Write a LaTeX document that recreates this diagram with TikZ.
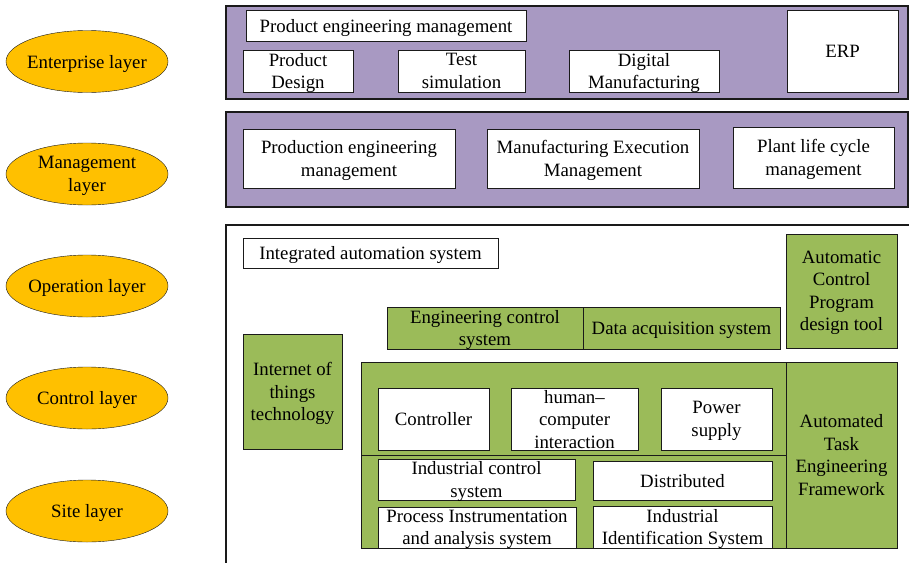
\documentclass[tikz,border=0pt]{standalone}
\usepackage{fontspec}
\setmainfont{Liberation Serif}
\usepackage{xcolor}
\usetikzlibrary{shapes.geometric, positioning}

\definecolor{layerorange}{HTML}{FFC000}
\definecolor{bandpurple}{HTML}{A899C2}
\definecolor{toolgreen}{HTML}{9BBB59}
\definecolor{edge}{HTML}{1A1A1A}

\begin{document}
\begin{tikzpicture}[
        x=1pt, y=-1pt,
        every node/.style={font=\fontsize{18.8}{22.5}\selectfont, inner sep=0pt, text depth=0pt, align=center},
        layer/.style={ellipse, draw=edge, thin, fill=layerorange, inner xsep=-6pt, minimum width=162pt, minimum height=62pt},
        band/.style={rectangle, draw=edge, line width=1.2pt, fill=bandpurple},
        item/.style={rectangle, draw=edge, line width=0.8pt, fill=white},
        tool/.style={rectangle, draw=edge, line width=0.8pt, fill=toolgreen}
    ]
        \useasboundingbox (0,0) rectangle (909,562);

        % layer names on the left
        \node[layer] (enterprise) at (87,61.5) {Enterprise layer};
        \node[layer] (management) at (87,174) {Management\\layer};
        \node[layer] (operation) at (87,286) {Operation layer};
        \node[layer] (control) at (87,398) {Control layer};
        \node[layer] (site) at (87,511) {Site layer};

        % enterprise band
        \node[band, minimum width=682pt, minimum height=93pt] (entband) at (567,52.5) {};
        \node[item, minimum width=280pt, minimum height=31pt] (pem) at (386,25.5) {Product engineering management};
        \node[item, minimum width=110pt, minimum height=42pt] (design) at (298,71) {Product\\Design};
        \node[item, minimum width=127pt, minimum height=42pt] (test) at (461.5,71) {Test\\simulation};
        \node[item, minimum width=150pt, minimum height=42pt] (digital) at (644,71) {Digital\\Manufacturing};
        \node[item, minimum width=111pt, minimum height=82pt] (erp) at (842.5,51) {ERP};

        % management band
        \node[band, minimum width=682pt, minimum height=95pt] (mgtband) at (567,159.5) {};
        \node[item, minimum width=212pt, minimum height=59pt] (prodeng) at (349,158.5) {Production engineering\\management};
        \node[item, minimum width=212pt, minimum height=59pt] (mes) at (593,158.5) {Manufacturing Execution\\Management};
        \node[item, minimum width=161pt, minimum height=61pt] (plc) at (813.5,157.5) {Plant life cycle\\management};

        % operation, control and site
        \node[item, line width=1.2pt, minimum width=700pt, minimum height=350pt] (opframe) at (576,400) {};
        \node[item, minimum width=255pt, minimum height=30pt] (ias) at (370.5,253) {Integrated automation system};
        \node[tool, minimum width=196pt, minimum height=42pt] (ecs) at (485,328) {Engineering control\\system};
        \node[tool, minimum width=197pt, minimum height=42pt] (das) at (681.5,328) {Data acquisition system};
        \node[tool, minimum width=111pt, minimum height=114pt] (acp) at (841.5,291) {Automatic\\Control\\Program\\design tool};
        \node[tool, minimum width=99pt, minimum height=115pt] (iot) at (292.5,391.5) {Internet of\\things\\technology};
        \node[tool, minimum width=425pt, minimum height=93pt] (ctrlbox) at (573.5,408.5) {};
        \node[tool, minimum width=425pt, minimum height=93pt] (sitebox) at (573.5,501.5) {};
        \node[tool, minimum width=111pt, minimum height=186pt] (atef) at (841.5,455) {Automated\\Task\\Engineering\\Framework};

        \node[item, minimum width=111pt, minimum height=62pt] (controller) at (433.5,419) {Controller};
        \node[item, minimum width=127pt, minimum height=62pt] (hci) at (574.5,419) {human–\\computer\\interaction};
        \node[item, minimum width=111pt, minimum height=62pt] (power) at (716.5,419) {Power\\supply};

        \node[item, minimum width=197pt, minimum height=41pt] (ics) at (476.5,479.5) {Industrial control\\system};
        \node[item, minimum width=179pt, minimum height=39pt] (dist) at (682.5,480.5) {Distributed};
        \node[item, minimum width=198pt, minimum height=41pt] (pias) at (477,527.5) {Process Instrumentation\\and analysis system};
        \node[item, minimum width=179pt, minimum height=42pt] (iis) at (682.5,527) {Industrial\\Identification System};
    \end{tikzpicture}
\end{document}
